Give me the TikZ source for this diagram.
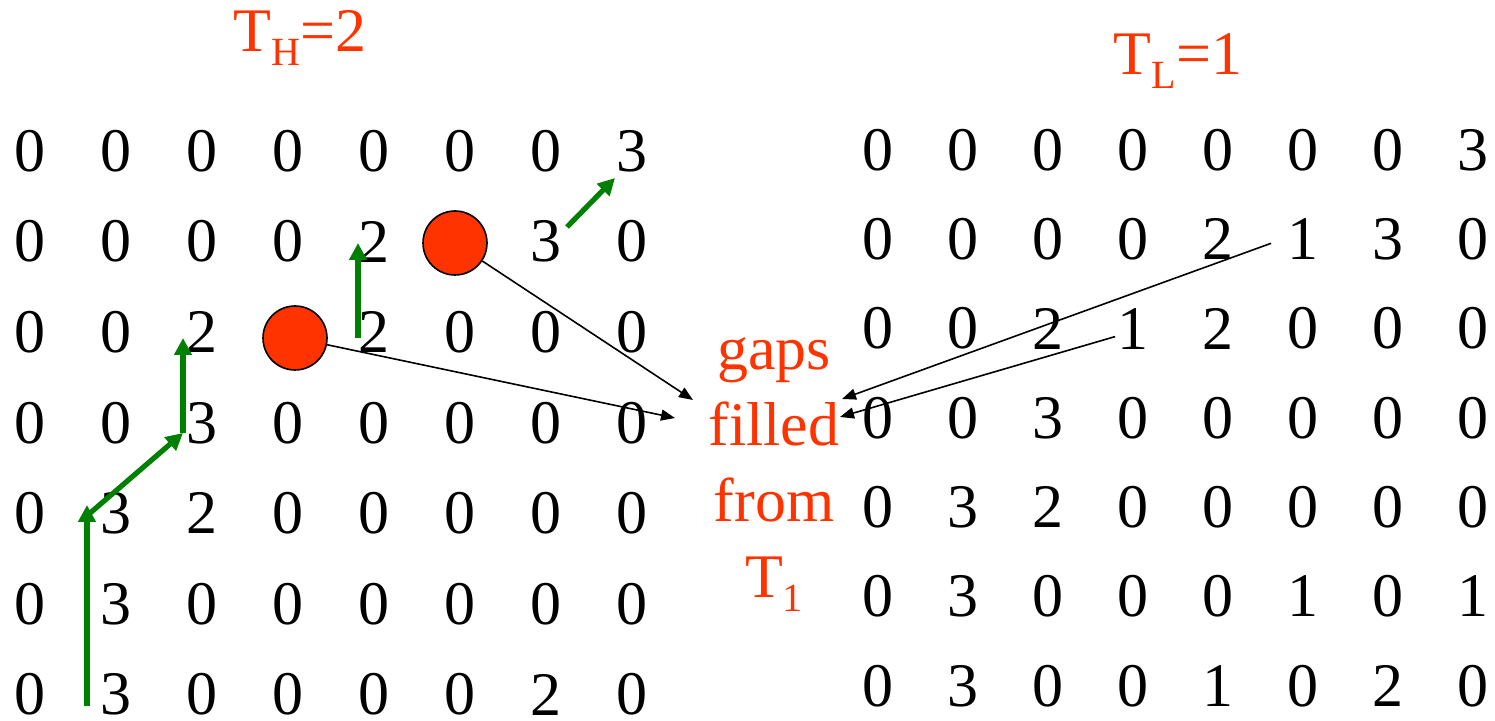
\documentclass[tikz,border=0pt]{standalone}
\usepackage{fontspec}
\setmainfont{Liberation Serif}
\usetikzlibrary{arrows.meta}
\definecolor{hot}{HTML}{FF3300}
\definecolor{trail}{HTML}{008000}
\newcommand{\lowsub}[1]{\raisebox{-7pt}{\fontsize{20}{20}\selectfont #1}}

\begin{document}
\begin{tikzpicture}[x=0.5pt, y=-0.5pt,
    num/.style={font=\fontsize{31}{36}\selectfont, inner sep=0pt},
    title/.style={font=\fontsize{31}{36}\selectfont, text=hot, inner sep=0pt},
    note/.style={font=\fontsize{31}{38}\selectfont, text=hot, align=center, inner sep=0pt},
    gap/.style={circle, draw, line width=0.8pt, fill=hot, minimum size=32pt, inner sep=0pt},
    trace/.style={-{Triangle[length=8.5pt, width=8.5pt]}, line width=2.6pt, color=trail},
    link/.style={-{Triangle[length=7pt, width=5.5pt]}, line width=0.8pt}
]
\useasboundingbox (0,0) rectangle (1495,721);

\node[title, anchor=base] (th) at (300,52) {T\lowsub{H}=2};
\node[title, anchor=base] (tl) at (1178,75) {T\lowsub{L}=1};

% high threshold image, two cells left empty
\foreach \row [count=\r] in {{0,0,0,0,0,0,0,3},{0,0,0,0,2,,3,0},{0,0,2,,2,0,0,0},
    {0,0,3,0,0,0,0,0},{0,3,2,0,0,0,0,0},{0,3,0,0,0,0,0,0},{0,3,0,0,0,0,2,0}}
  \foreach \v [count=\c] in \row
    \node[num] (h-\r-\c) at ({30+86*(\c-1)}, {151+90.6*(\r-1)}) {\v};

% low threshold image
\foreach \row [count=\r] in {{0,0,0,0,0,0,0,3},{0,0,0,0,2,1,3,0},{0,0,2,1,2,0,0,0},
    {0,0,3,0,0,0,0,0},{0,3,2,0,0,0,0,0},{0,3,0,0,0,1,0,1},{0,3,0,0,1,0,2,0}}
  \foreach \v [count=\c] in \row
    \node[num] (l-\r-\c) at ({878+85*(\c-1)}, {150+89.3*(\r-1)}) {\v};

\node[gap] (gap1) at (455,243) {};
\node[gap] (gap2) at (295,338) {};

\node[note, anchor=north] (fill) at (774,337) {gaps\\filled\\from\\T\lowsub{1}};

% traced contour
\coordinate (a0) at (87,706);
\coordinate (a1) at (87,505);
\coordinate (a2) at (89,514);
\coordinate (a3) at (183,433);
\coordinate (a4) at (183,338);
\coordinate (b0) at (358,338);
\coordinate (b1) at (358,243);
\coordinate (c0) at (567,227);
\coordinate (c1) at (615,178);

\draw[trace] (a0) -- (a1);
\draw[trace] (a2) -- (a3);
\draw[trace] (a3) -- (a4);
\draw[trace] (b0) -- (b1);
\draw[trace] (c0) -- (c1);

% ends at the note
\coordinate (e1) at (693,400);
\coordinate (e2) at (675,418);
\coordinate (e3) at (842,399);
\coordinate (e4) at (840,417);

\draw[link] (gap1) -- (e1);
\draw[link] (gap2) -- (e2);
\draw[link] ([xshift=-8pt, yshift=-2pt]l-2-6.west) -- (e3);
\draw[link] ([xshift=-1pt, yshift=-4pt]l-3-4.west) -- (e4);
\end{tikzpicture}
\end{document}
